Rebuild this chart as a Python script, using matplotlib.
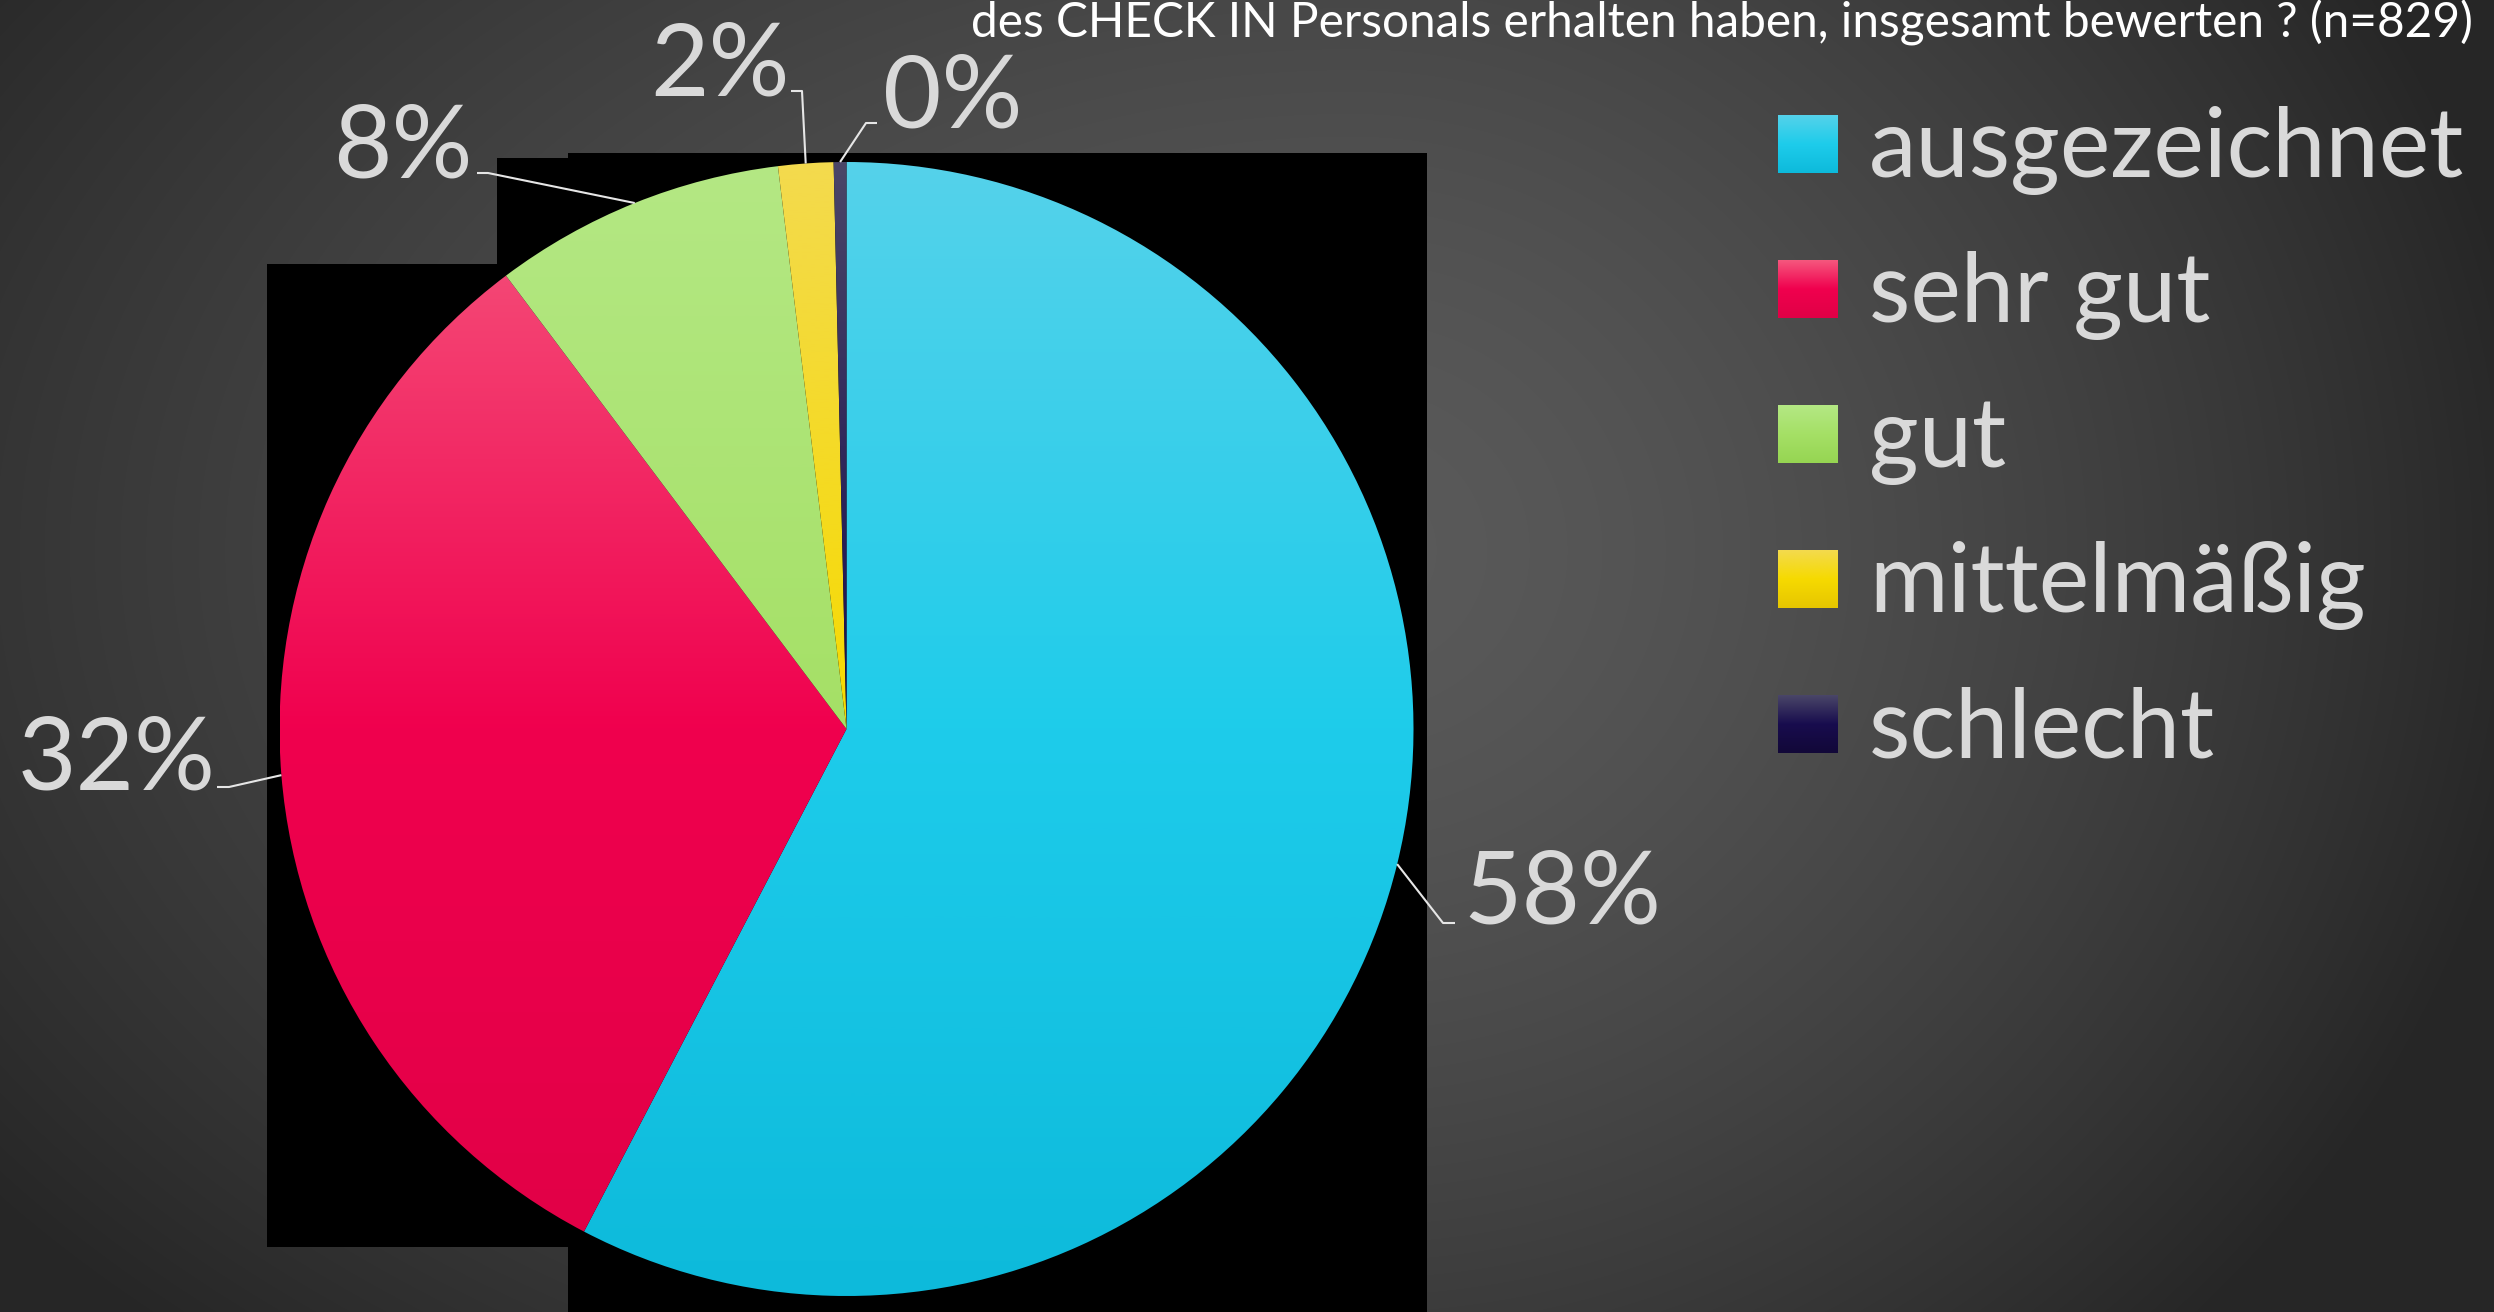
import numpy as np
import matplotlib
matplotlib.use("Agg")
import matplotlib.pyplot as plt
from matplotlib.patches import Rectangle
from matplotlib.colors import LinearSegmentedColormap

# ---------------- data ----------------
categories = ["ausgezeichnet", "sehr gut", "gut", "mittelmäßig", "schlecht"]
counts = [478, 266, 69, 13, 3]
n_total = 829
title_text = "des CHECK IN Personals erhalten haben, insgesamt bewerten ? (n=829)"

# gradient stops per slice (top / middle / bottom)
slice_light = ["#55D2EA", "#F5587E", "#B4E884", "#F3DA4E", "#4A4668"]
slice_base = ["#1ECCEB", "#F0004E", "#A5E066", "#F6DA00", "#180C4E"]
slice_dark = ["#0DBADB", "#E00046", "#96D552", "#E6C600", "#120838"]

# ---------------- layout (pixels, origin top-left) ----------------
W, H = 2494, 1312
FONT = "Lato"
TXT = "#D9D9D9"

fig = plt.figure(figsize=(W / 100, H / 100), dpi=100)
ax = fig.add_axes([0, 0, 1, 1])


def Y(y):
    return H - y


# background radial gradient
yy, xx = np.mgrid[0:H, 0:W].astype(float)
bcx, bcy = 1350.0, 550.0
sx = np.where(xx < bcx, 1700.0, 1200.0)
d = np.sqrt(((xx - bcx) / sx) ** 2 + ((yy - bcy) / 1100.0) ** 2)
d = np.clip(d, 0, 1) ** 1.5
c0, c1 = 0x5A / 255, 0x26 / 255
bg = c0 - (c0 - c1) * d
ax.imshow(np.dstack([bg, bg, bg]), extent=(0, W, 0, H), origin="upper",
          aspect="auto", interpolation="bilinear", zorder=0)

# black plot-area artefacts
for (x0, y0, x1, y1) in [(267, 264, 568, 1247), (497, 158, 568, 264), (568, 153, 1427, 1312)]:
    ax.add_patch(Rectangle((x0, Y(y1)), x1 - x0, y1 - y0, facecolor="black",
                           edgecolor="none", zorder=1))

# pie
PCX, PCY, PR = 846.5, Y(729), 567.0
wedges, _ = ax.pie(counts, startangle=90, counterclock=False,
                   center=(PCX, PCY), radius=PR,
                   wedgeprops=dict(linewidth=0))


def grad_cmap(i):
    return LinearSegmentedColormap.from_list(
        f"g{i}", [slice_light[i], slice_base[i], slice_dark[i]])


col = np.linspace(0, 1, 512).reshape(-1, 1)
for i, w in enumerate(wedges):
    w.set_facecolor("none")
    w.set_zorder(2)
    im = ax.imshow(col, cmap=grad_cmap(i), vmin=0, vmax=1,
                   extent=(PCX - PR, PCX + PR, PCY - PR, PCY + PR),
                   origin="upper", aspect="auto", zorder=2,
                   interpolation="bilinear")
    im.set_clip_path(w)

ax.set_xlim(0, W)
ax.set_ylim(0, H)
ax.set_aspect("auto")
ax.axis("off")

renderer = fig.canvas.get_renderer()


def fit_size(s, target_w, ref=100):
    t = ax.text(0, 0, s, fontsize=ref, family=FONT)
    wpx = t.get_window_extent(renderer).width
    t.remove()
    return ref * target_w / wpx


# percentage labels
label_left = [1463, 18, 333, 650, 883]
label_base = [923, 790, 177, 95, 128]
elbow_a = [(1443, 923), (229, 787), (488, 173), (802, 91), (866, 123)]
elbow_b = [(1455, 923), (217, 787), (477, 173), (791, 91), (877, 123)]

pct_size = fit_size("58%", 198)
for i, w in enumerate(wedges):
    pct = round(counts[i] / n_total * 100)
    ax.text(label_left[i], Y(label_base[i]), f"{pct:.0f}%", fontsize=pct_size,
            family=FONT, color=TXT, ha="left", va="baseline", zorder=5)
    th = np.deg2rad((w.theta1 + w.theta2) / 2)
    axx = PCX + PR * np.cos(th)
    ayy = PCY + PR * np.sin(th)
    xs = [axx, elbow_a[i][0], elbow_b[i][0]]
    ys = [ayy, Y(elbow_a[i][1]), Y(elbow_b[i][1])]
    ax.plot(xs, ys, color="#E6E6E6", lw=1.5, zorder=4, solid_capstyle="butt")

# legend
leg_sw_x0, leg_sw_x1 = 1778, 1838
leg_top0, leg_step, leg_sw_h = 115, 145, 58
leg_text_x, leg_base0 = 1869, 177
leg_size = fit_size("ausgezeichnet", 596)
for i, name in enumerate(categories):
    top = leg_top0 + i * leg_step
    ax.imshow(col, cmap=grad_cmap(i), vmin=0, vmax=1,
              extent=(leg_sw_x0, leg_sw_x1, Y(top + leg_sw_h), Y(top)),
              origin="upper", aspect="auto", zorder=3, interpolation="bilinear")
    ax.text(leg_text_x, Y(leg_base0 + i * leg_step), name, fontsize=leg_size,
            family=FONT, color=TXT, ha="left", va="baseline", zorder=5)

# title (first line cut off in the original)
title_size = fit_size(title_text, 1500)
ax.text(2473, Y(37), title_text, fontsize=title_size, family=FONT, color="white",
        ha="right", va="baseline", zorder=5)

ax.set_xlim(0, W)
ax.set_ylim(0, H)
fig.savefig("out.png", dpi=100, facecolor="#333333")
